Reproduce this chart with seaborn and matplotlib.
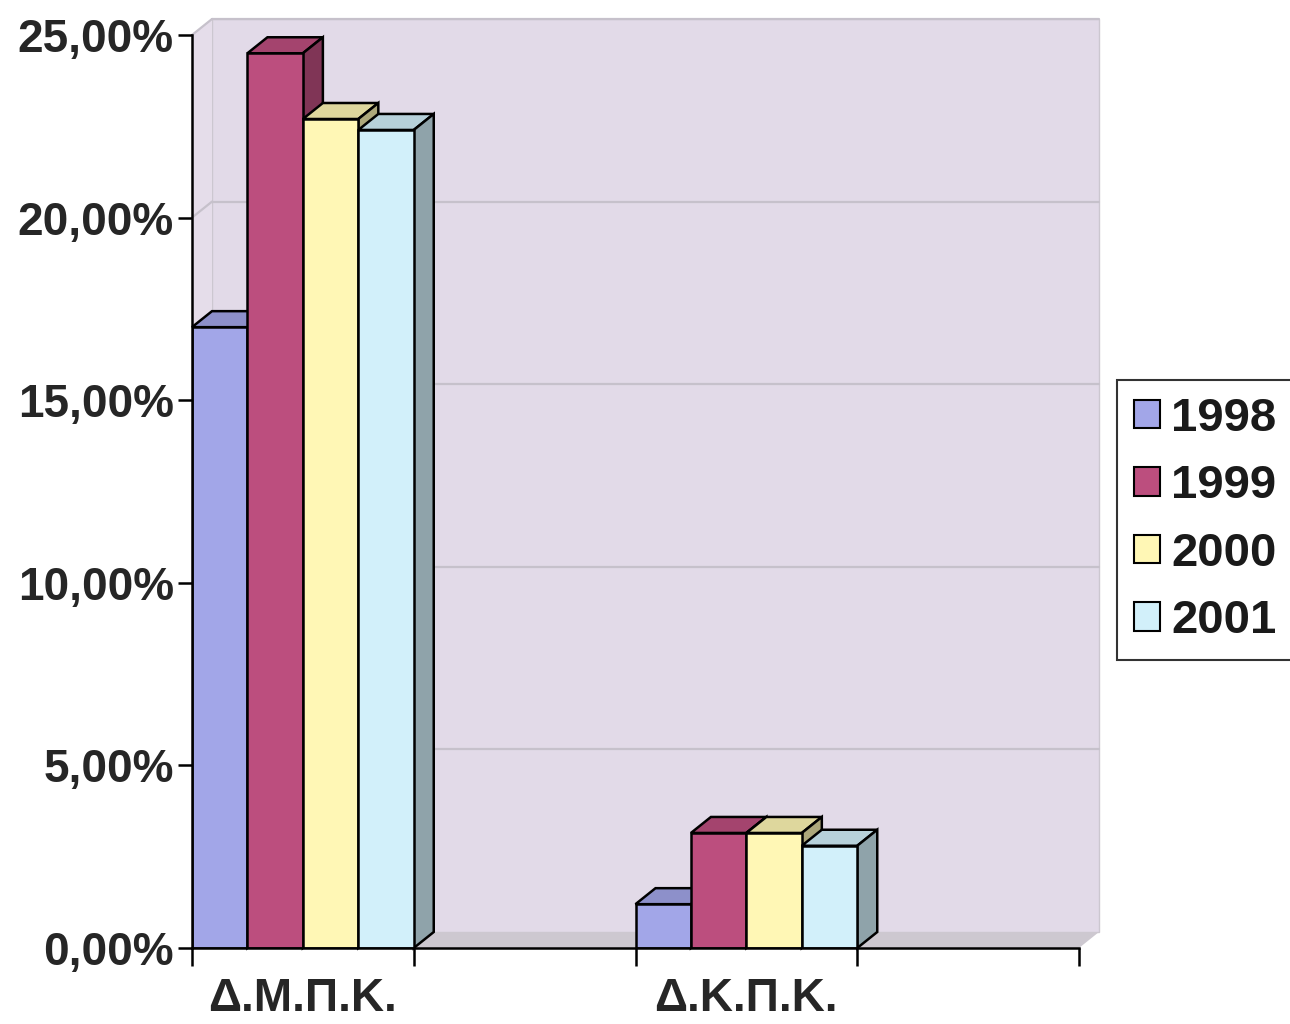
import matplotlib
matplotlib.use("Agg")
import matplotlib.pyplot as plt
import matplotlib.colors as mcolors
from matplotlib.patches import Polygon, Patch
from matplotlib.ticker import FuncFormatter, FixedLocator
import pandas as pd
import seaborn as sns

categories = ["Δ.Μ.Π.Κ.", "Δ.Κ.Π.Κ."]
years = ["1998", "1999", "2000", "2001"]
share_1998 = [17.0, 1.2]
share_1999 = [24.5, 3.15]
share_2000 = [22.7, 3.15]
share_2001 = [22.4, 2.8]
colors = ["#A2A6E8", "#BC4E7E", "#FFF7B5", "#D2F0FA"]
y_ticks = [0, 5, 10, 15, 20, 25]

rows = []
for year, vals in zip(years, [share_1998, share_1999, share_2000, share_2001]):
    for cat, v in zip(categories, vals):
        rows.append({"category": cat, "year": year, "value": v})
df = pd.DataFrame(rows)

sns.set_style("white")
plt.rcParams["font.family"] = ["Liberation Sans", "DejaVu Sans"]
plt.rcParams["font.weight"] = "bold"
plt.rcParams["text.color"] = "#1a1a1a"

fig = plt.figure(figsize=(12.9, 10.24), dpi=100)
ax = fig.add_axes([192 / 1290, 1 - 948 / 1024, (1079 - 192) / 1290, (948 - 35) / 1024])
ax.set_facecolor("none")

sns.barplot(data=df, x="category", y="value", hue="year", palette=colors,
            width=0.5, gap=0, saturation=1, edgecolor="black", linewidth=1.8,
            legend=False, ax=ax)
bars = sorted(ax.patches, key=lambda p: p.get_x())

x0, x1 = -0.25, 1.75
ymax = 25
ax.set_xlim(x0, x1)
ax.set_ylim(0, ymax)

# depth of the fake 3D box, in data units
dx = 20 / 887 * (x1 - x0)
dy = 16 / 913 * ymax

wall = "#E2DAE8"
ax.add_patch(Polygon([(x0 + dx, dy), (x1 + dx, dy), (x1 + dx, ymax + dy), (x0 + dx, ymax + dy)],
                     closed=True, facecolor=wall, edgecolor="#CCC7D0", lw=1, zorder=0, clip_on=False))
ax.add_patch(Polygon([(x0, 0), (x0 + dx, dy), (x0 + dx, ymax + dy), (x0, ymax)],
                     closed=True, facecolor="#E5DDEA", edgecolor="none", zorder=0, clip_on=False))
ax.add_patch(Polygon([(x0, 0), (x1, 0), (x1 + dx, dy), (x0 + dx, dy)],
                     closed=True, facecolor="#CDC8D0", edgecolor="none", zorder=0.2, clip_on=False))
for t in y_ticks[1:]:
    ax.plot([x0 + dx, x1 + dx], [t + dy, t + dy], color="#C6C1CB", lw=1.6, zorder=0.5, clip_on=False)
    ax.plot([x0, x0 + dx], [t, t + dy], color="#C6C1CB", lw=1.6, zorder=0.5, clip_on=False)

# 3D tops and sides for every bar
for i, p in enumerate(bars):
    k = i % 4
    bx0 = p.get_x()
    bx1 = bx0 + p.get_width()
    h = p.get_height()
    fc = mcolors.to_rgb(p.get_facecolor())
    top_c = tuple(c * 0.87 for c in fc)
    side_c = tuple(c * 0.68 for c in fc)
    p.set_zorder(3 + k)
    ax.add_patch(Polygon([(bx0, h), (bx1, h), (bx1 + dx, h + dy), (bx0 + dx, h + dy)], closed=True,
                         facecolor=top_c, edgecolor="black", lw=1.8, zorder=2.5 + k, clip_on=False))
    ax.add_patch(Polygon([(bx1, 0), (bx1 + dx, dy), (bx1 + dx, h + dy), (bx1, h)], closed=True,
                         facecolor=side_c, edgecolor="black", lw=1.8, zorder=2.5 + k, clip_on=False))

for s in ["top", "right"]:
    ax.spines[s].set_visible(False)
for s in ["left", "bottom"]:
    ax.spines[s].set_color("black")
    ax.spines[s].set_linewidth(1.8)
    ax.spines[s].set_zorder(10)

ax.yaxis.set_major_locator(FixedLocator(y_ticks))
ax.yaxis.set_major_formatter(FuncFormatter(lambda v, _: f"{v:.2f}".replace(".", ",") + "%"))
ax.xaxis.set_minor_locator(FixedLocator([-0.25, 0.25, 0.75, 1.25, 1.75]))
ax.tick_params(axis="y", which="major", length=10, width=1.8, pad=3, labelsize=33, color="black", left=True)
ax.tick_params(axis="x", which="major", length=0, pad=21, labelsize=33)
ax.tick_params(axis="x", which="minor", length=13, width=1.8, color="black", bottom=True)
ax.set_xlabel("")
ax.set_ylabel("")

handles = [Patch(facecolor=c, edgecolor="black", lw=1.5, label=y) for c, y in zip(colors, years)]
leg = fig.legend(handles=handles, loc="upper left", bbox_to_anchor=(1117 / 1290, 1 - 380 / 1024),
                 fontsize=34, frameon=True, fancybox=False, handlelength=0.55, handleheight=0.55,
                 handletextpad=0.25, labelspacing=0.5, borderpad=0.35, borderaxespad=0)
leg.get_frame().set_edgecolor("black")
leg.get_frame().set_linewidth(1.5)

fig.savefig("out.png", dpi=100)
